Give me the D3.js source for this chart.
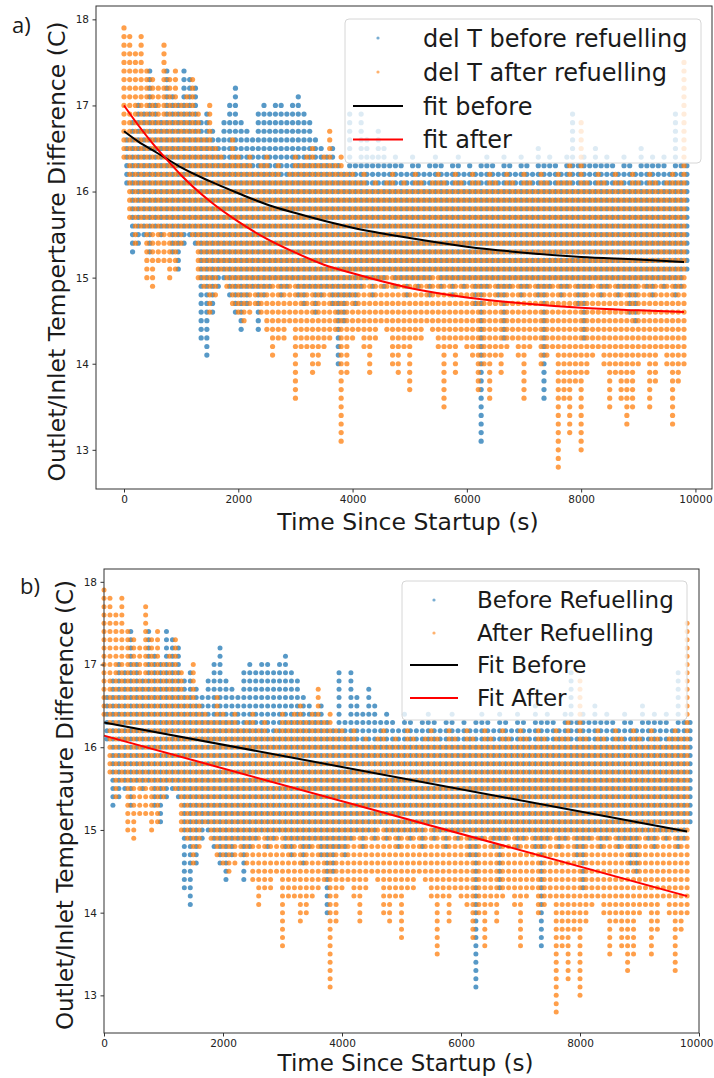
<!DOCTYPE html>
<html>
<head>
<meta charset="utf-8">
<script src="https://cdn.jsdelivr.net/npm/d3@7"></script>
<style>
  body { margin: 0; background: #fff; }
  text { font-family: "DejaVu Sans", sans-serif; fill: #1a1a1a; }
</style>
</head>
<body>
<svg id="chart" width="714" height="1078"></svg>
<script>
// sample columns (s); "before" samples sit half a step later than "after" ones
const times = [0,100,200,300,400,500,600,700,800,900,1000,1100,1200,1300,1400,1500,1600,1700,1800,1900,
  2000,2100,2200,2300,2400,2500,2600,2700,2800,2900,3000,3100,3200,3300,3400,3500,3600,3700,3800,3900,
  4000,4100,4200,4300,4400,4500,4600,4700,4800,4900,5000,5100,5200,5300,5400,5500,5600,5700,5800,5900,
  6000,6100,6200,6300,6400,6500,6600,6700,6800,6900,7000,7100,7200,7300,7400,7500,7600,7700,7800,7900,
  8000,8100,8200,8300,8400,8500,8600,8700,8800,8900,9000,9100,9200,9300,9400,9500,9600,9700,9800];
const beforeShift = 50;

// lowest / highest reading in each column (C), readings come in 0.1 C steps
const beforeLo = [16.1,15.3,15.4,15.5,15.3,15.6,15.5,15.6,15.3,15.1,15.4,15.5,15.4,14.3,14.1,14.6,14.9,15.0,14.8,14.6,
  14.4,14.7,14.9,14.4,14.8,14.9,15.0,14.8,14.9,15.0,14.8,14.7,14.9,14.6,14.8,14.9,14.7,14.0,14.5,14.8,
  14.7,14.9,15.0,14.8,15.0,14.9,15.1,14.9,15.0,14.8,15.0,14.9,15.0,14.8,15.1,14.9,15.0,14.8,15.0,14.9,
  15.0,14.7,13.1,14.9,15.0,14.8,14.3,14.9,15.0,14.8,14.9,15.0,14.8,13.6,14.9,15.0,14.8,14.9,15.0,14.7,
  14.3,14.9,15.0,14.8,14.9,15.0,14.8,14.9,14.6,14.5,15.0,14.9,14.8,15.0,14.9,15.0,14.8,14.9,15.1];
const beforeHi = [16.6,16.8,17.0,16.9,17.4,17.0,16.8,17.4,17.1,17.0,17.4,17.3,17.2,16.8,16.9,16.7,16.6,16.8,17.0,17.2,
  16.8,16.7,16.6,16.9,17.0,16.9,17.0,17.0,16.9,17.0,17.1,16.9,16.8,16.6,16.5,16.4,16.5,16.3,16.2,16.9,
  16.3,16.9,16.6,16.4,16.7,16.5,16.3,16.4,16.3,16.2,16.4,16.3,16.2,16.3,16.4,16.3,16.2,16.3,16.4,16.2,
  16.3,16.2,16.3,16.4,16.3,16.2,16.4,16.3,16.2,16.4,16.3,16.2,16.5,16.3,16.4,16.3,16.2,16.4,16.9,16.3,
  16.4,16.3,16.5,16.3,16.4,16.3,16.2,16.4,16.3,16.2,16.5,16.3,16.4,16.3,16.4,16.2,16.9,16.3,16.3];
const afterLo = [16.4,15.7,15.4,15.6,15.0,14.9,15.2,15.2,15.0,15.1,15.4,15.6,15.5,15.0,14.9,14.6,14.8,15.1,14.9,14.7,
  14.6,14.5,14.6,14.7,14.6,14.4,14.1,14.3,14.3,14.5,13.6,14.2,14.2,13.9,14.0,14.2,14.3,14.4,13.1,13.9,
  14.3,14.4,14.2,13.9,14.3,14.5,14.4,14.0,13.9,14.2,13.7,14.3,14.3,14.5,14.4,14.2,13.5,14.2,13.9,14.3,
  14.2,14.1,13.7,14.0,13.6,14.1,13.9,14.2,14.3,14.1,13.6,14.2,14.3,14.0,14.1,14.2,12.8,13.6,13.2,13.8,
  13.0,13.9,14.1,14.2,14.0,13.5,13.9,13.6,13.3,13.5,14.0,14.1,13.5,13.8,14.2,14.0,13.3,13.8,14.0];
const afterHi = [17.9,17.8,17.6,17.8,17.4,17.3,17.2,17.7,17.3,17.4,17.0,17.1,17.3,16.9,16.6,17.0,16.5,16.4,16.3,16.6,
  16.4,16.3,16.4,16.2,16.3,16.4,16.2,16.3,16.1,16.2,16.4,16.3,16.4,16.5,16.3,16.4,16.7,16.3,16.4,16.2,
  16.2,16.1,16.2,16.0,16.1,16.0,16.1,16.2,16.0,16.1,16.0,16.2,16.1,16.0,16.1,16.2,16.1,16.0,16.2,16.1,
  16.0,16.2,16.1,16.0,16.2,16.1,16.0,16.2,16.1,16.0,16.2,16.1,16.0,16.2,16.1,16.0,16.2,16.1,16.3,16.0,
  16.8,16.1,16.0,16.2,16.1,16.0,16.2,16.1,16.0,16.2,16.1,16.0,16.2,16.1,16.0,16.1,16.2,16.1,17.5];

// fitted curves
const fitTimesA = [0,250,500,750,1000,1500,2000,2500,3000,3500,4000,5000,6000,7000,8000,9000,9800];
const fitBeforeA = [16.70,16.58,16.48,16.38,16.28,16.12,15.98,15.85,15.75,15.66,15.58,15.46,15.36,15.29,15.24,15.21,15.18];
const fitAfterA = [17.00,16.77,16.56,16.37,16.19,15.89,15.65,15.45,15.29,15.15,15.05,14.88,14.77,14.70,14.65,14.62,14.60];
const fitTimesB = [0,9800];
const fitBeforeB = [16.30,14.98];
const fitAfterB = [16.14,14.20];

const yTicks = [13,14,15,16,17,18];
const xTicks = [0,2000,4000,6000,8000,10000];
const yLabel = "Outlet/Inlet Tempertaure Difference (C)";
const xLabel = "Time Since Startup (s)";

const BLUE = "#1f77b4", ORANGE = "#ff7f0e";

function columnPoints(lo, hi, shift) {
    const pts = [];
    times.forEach((t, i) => {
        for (let k = Math.round(lo[i] * 10); k <= Math.round(hi[i] * 10); k++) {
            pts.push({ t: t + shift, v: k / 10 });
        }
    });
    return pts;
}
const beforePts = columnPoints(beforeLo, beforeHi, beforeShift);
const afterPts = columnPoints(afterLo, afterHi, 0);

const svg = d3.select("#chart");

function drawPanel(cfg) {
    const g = svg.append("g");
    const x = d3.scaleLinear().domain(cfg.xDomain).range([cfg.left, cfg.right]);
    const y = d3.scaleLinear().domain([12.545, 18.155]).range([cfg.bottom, cfg.top]);

    // --- dots ---
    g.append("g").selectAll("circle")
        .data(beforePts).enter().append("circle")
        .attr("cx", d => x(d.t)).attr("cy", d => y(d.v))
        .attr("r", cfg.r).style("fill", BLUE).style("opacity", 0.75);
    g.append("g").selectAll("circle")
        .data(afterPts).enter().append("circle")
        .attr("cx", d => x(d.t)).attr("cy", d => y(d.v))
        .attr("r", cfg.r).style("fill", ORANGE).style("opacity", 0.75);

    // --- fits ---
    const line = d3.line().x(d => x(d[0])).y(d => y(d[1])).curve(d3.curveMonotoneX);
    g.append("path").datum(d3.zip(cfg.fitT, cfg.fitBefore)).attr("d", line)
        .style("fill", "none").style("stroke", "#000").style("stroke-width", 2);
    g.append("path").datum(d3.zip(cfg.fitT, cfg.fitAfter)).attr("d", line)
        .style("fill", "none").style("stroke", "#f00").style("stroke-width", 2);

    // --- frame + axes ---
    g.append("rect")
        .attr("x", cfg.left).attr("y", cfg.top)
        .attr("width", cfg.right - cfg.left).attr("height", cfg.bottom - cfg.top)
        .style("fill", "none").style("stroke", "#333").style("stroke-width", 1);

    const xAxis = g.append("g").attr("transform", `translate(0,${cfg.bottom})`)
        .call(d3.axisBottom(x).tickValues(xTicks).tickFormat(d3.format("d")).tickSize(3.5).tickPadding(3.5));
    const yAxis = g.append("g").attr("transform", `translate(${cfg.left},0)`)
        .call(d3.axisLeft(y).tickValues(yTicks).tickFormat(d3.format("d")).tickSize(3.5).tickPadding(3.5));
    [xAxis, yAxis].forEach(a => {
        a.select(".domain").remove();
        a.selectAll("line").style("stroke", "#333");
        a.selectAll("text").style("font-family", "DejaVu Sans").style("font-size", "10.5px").style("fill", "#222");
    });
    // keep the last x label inside the picture
    xAxis.selectAll(".tick text").filter(d => x(d) + 17 > 714)
        .attr("text-anchor", "end").attr("x", d => 713 - x(d));

    g.append("text")
        .attr("transform", `translate(${cfg.yLabelX},${(cfg.top + cfg.bottom) / 2 + 4}) rotate(-90)`)
        .attr("text-anchor", "middle").style("font-size", cfg.labelSize + "px").text(yLabel);
    g.append("text")
        .attr("x", (cfg.left + cfg.right) / 2 + 4).attr("y", cfg.xLabelY)
        .attr("text-anchor", "middle").style("font-size", cfg.labelSize + "px").text(xLabel);

    g.append("text").attr("x", cfg.tag[1]).attr("y", cfg.tag[2])
        .style("font-family", "Open Sans, sans-serif").style("font-size", "22px").text(cfg.tag[0]);

    // --- legend ---
    const L = cfg.legend;
    const lg = g.append("g");
    lg.append("rect")
        .attr("x", L.x0).attr("y", L.y0).attr("width", L.x1 - L.x0).attr("height", L.y1 - L.y0)
        .attr("rx", 4).style("fill", "#fff").style("fill-opacity", 0.8)
        .style("stroke", "#d6d6d6").style("stroke-width", 1);
    const items = [
        { kind: "dot", color: BLUE }, { kind: "dot", color: ORANGE },
        { kind: "line", color: "#000" }, { kind: "line", color: "#f00" }
    ];
    items.forEach((it, i) => {
        const cy = L.rows[i];
        if (it.kind === "dot") {
            lg.append("circle").attr("cx", (L.lineX0 + L.lineX1) / 2).attr("cy", cy)
                .attr("r", 1.6).style("fill", it.color).style("opacity", 0.6);
        } else {
            lg.append("line").attr("x1", L.lineX0).attr("x2", L.lineX1).attr("y1", cy).attr("y2", cy)
                .style("stroke", it.color).style("stroke-width", 2);
        }
        lg.append("text").attr("x", L.textX).attr("y", cy + L.size * 0.36)
            .style("font-size", L.size + "px").text(cfg.names[i]);
    });
}

drawPanel({
    left: 96, right: 712, top: 6, bottom: 489, r: 2.6,
    xDomain: [-490, 10290],
    fitT: fitTimesA, fitBefore: fitBeforeA, fitAfter: fitAfterA,
    yLabelX: 65, xLabelY: 530, labelSize: 23.5,
    tag: ["a)", 12, 33],
    names: ["del T before refuelling", "del T after refuelling", "fit before", "fit after"],
    legend: { x0: 345, x1: 701, y0: 19, y1: 163, rows: [38, 72, 106, 139.5],
              lineX0: 353, lineX1: 403, textX: 423, size: 24 }
});

drawPanel({
    left: 104, right: 699, top: 569, bottom: 1033, r: 2.5,
    xDomain: [0, 10000],
    fitT: fitTimesB, fitBefore: fitBeforeB, fitAfter: fitAfterB,
    yLabelX: 73, xLabelY: 1071, labelSize: 23,
    tag: ["b)", 20, 594],
    names: ["Before Refuelling", "After Refuelling", "Fit Before", "Fit After"],
    legend: { x0: 402, x1: 687, y0: 581, y1: 720, rows: [600, 633, 665, 698],
              lineX0: 410, lineX1: 458, textX: 477, size: 23 }
});
</script>
</body>
</html>
